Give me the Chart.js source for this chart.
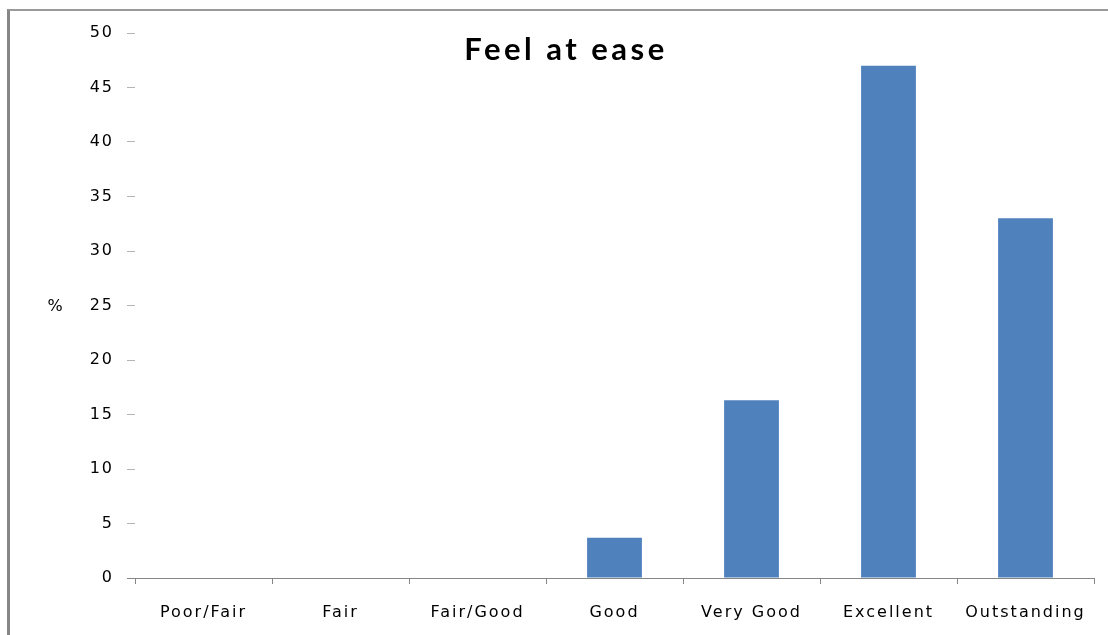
<!DOCTYPE html>
<html>
<head>
<meta charset="utf-8">
<script src="https://cdn.jsdelivr.net/npm/chart.js@4.4.1/dist/chart.umd.min.js"></script>
<style>
  html, body { margin: 0; padding: 0; background: #fff; overflow: hidden; }
  #frame { position: absolute; left: 7px; top: 9px; width: 1200px; height: 700px;
           border-left: 3px solid #868686; border-top: 2px solid #9a9a9a; }
  #wrap { position: absolute; left: 0; top: 0; width: 1108px; height: 635px; }
</style>
</head>
<body>
<div id="frame"></div>
<div id="wrap"><canvas id="c" width="1108" height="635"></canvas></div>
<script>
const categories = ['Poor/Fair', 'Fair', 'Fair/Good', 'Good', 'Very Good', 'Excellent', 'Outstanding'];
const percentValues = [0, 0, 0, 3.7, 16.3, 47, 33];
const yTicks = [0, 5, 10, 15, 20, 25, 30, 35, 40, 45, 50];
const chartTitle = 'Feel at ease';
const yUnit = '%';

const labelFont = { family: '"DejaVu Sans", Verdana, sans-serif', size: 16 };

// Widely spaced axis lettering
const spacing = {
  id: 'spacing',
  beforeDraw(chart) { chart.ctx.letterSpacing = '2px'; }
};

// Title and unit label sit inside the plot, drawn after the bars
const overlayText = {
  id: 'overlayText',
  afterDraw(chart) {
    const ctx = chart.ctx;
    ctx.save();
    ctx.fillStyle = '#000';
    ctx.textAlign = 'center';
    ctx.textBaseline = 'middle';
    ctx.letterSpacing = '3.5px';
    ctx.font = 'bold 31px Lato, "Open Sans", sans-serif';
    ctx.fillText(chartTitle, 566, 50);
    ctx.letterSpacing = '0px';
    ctx.font = '16px "DejaVu Sans", sans-serif';
    const yScale = chart.scales.y;
    ctx.fillText(yUnit, 55, yScale.getPixelForValue(25) + 1);
    ctx.restore();
  }
};

new Chart(document.getElementById('c'), {
  type: 'bar',
  data: {
    labels: categories,
    datasets: [{
      data: percentValues,
      backgroundColor: '#4F81BD',
      borderWidth: 0,
      categoryPercentage: 1.0,
      barPercentage: 0.4
    }]
  },
  options: {
    responsive: false,
    animation: false,
    devicePixelRatio: 1,
    layout: { padding: { left: 0, right: 14, top: 33, bottom: 0 } },
    plugins: {
      legend: { display: false },
      title: { display: false },
      tooltip: { enabled: false }
    },
    scales: {
      x: {
        grid: {
          offset: true,
          drawOnChartArea: false,
          drawTicks: true,
          tickLength: 6,
          color: '#868686',
          lineWidth: 1
        },
        border: { display: true, color: '#868686', width: 1 },
        ticks: { color: '#000', font: labelFont, padding: 19, maxRotation: 0, autoSkip: false },
        afterFit(scale) { scale.height = 57; }
      },
      y: {
        min: 0,
        max: 50,
        afterBuildTicks(scale) { scale.ticks = yTicks.map(v => ({ value: v })); },
        grid: {
          drawOnChartArea: false,
          drawTicks: true,
          tickLength: 8,
          color: (ctx) => (ctx.tick && ctx.tick.value === 0 ? '#868686' : '#b4b4b4'),
          lineWidth: 1
        },
        border: { display: false },
        ticks: { color: '#000', font: labelFont, padding: 13 },
        afterFit(scale) { scale.width = 135; }
      }
    }
  },
  plugins: [spacing, overlayText]
});
</script>
</body>
</html>
